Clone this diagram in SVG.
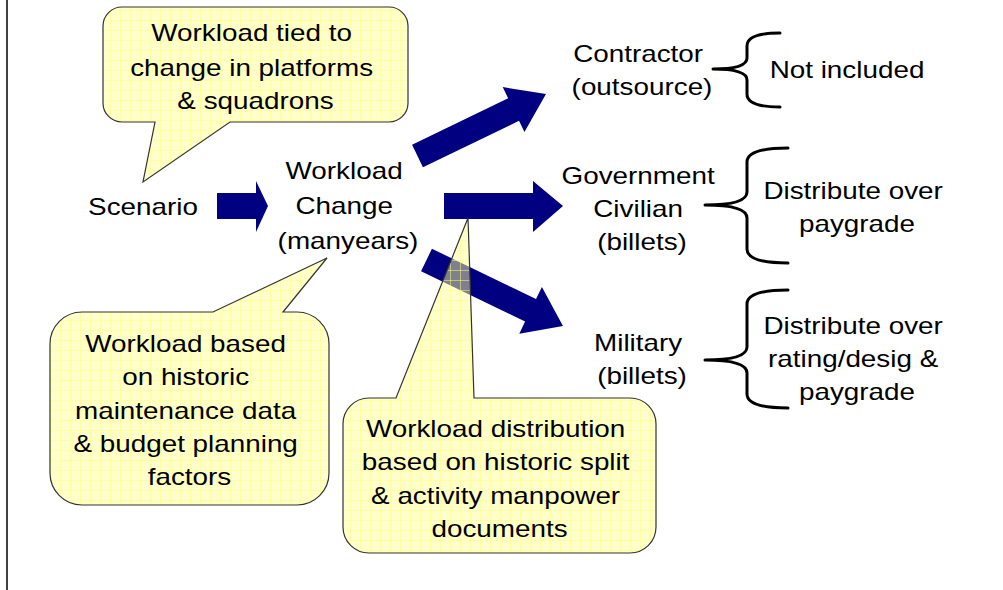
<svg xmlns="http://www.w3.org/2000/svg" width="1003" height="590" viewBox="0 0 1003 590">
  <style>
    .t { font-family: "Liberation Sans", Arial, sans-serif; font-size: 24px; fill: #000; text-anchor: middle; }
    .arrow { fill: #000080; }
    .brace { fill: none; stroke: #000; stroke-width: 3; stroke-linecap: round; stroke-linejoin: round; }
    .callout { fill: url(#grid); stroke: #333; stroke-width: 1.2; }
  </style>
  <defs>
    <!-- translucent pale-yellow fill with a fine grid -->
    <pattern id="grid" width="10" height="10" patternUnits="userSpaceOnUse">
      <rect width="10" height="10" fill="#ffff99" fill-opacity="0.5"/>
      <path d="M0 0.5H10M0.5 0V10" stroke="#ffff80" stroke-opacity="0.5" stroke-width="1"/>
    </pattern>
  </defs>

  <rect width="1003" height="590" fill="#fff"/>
  <line x1="7" y1="0" x2="7" y2="590" stroke="#000" stroke-width="1.5"/>

  <!-- block arrows and braces -->
  <g id="connectors">
    <polygon class="arrow" points="217,193 256,193 256,181 268,206 256,232 256,219 217,219"/>
    <polygon class="arrow" transform="translate(417.5,156) rotate(-25.8)" points="0,-12.5 106.7,-12.5 106.7,-25 142.7,0 106.7,25 106.7,12.5 0,12.5"/>
    <polygon class="arrow" points="444,193 533,193 533,181 563,206 533,232 533,219 444,219"/>
    <polygon class="arrow" transform="translate(426.5,260) rotate(25.8)" points="0,-12.5 115.6,-12.5 115.6,-26 151.6,0 115.6,26 115.6,12.5 0,12.5"/>

    <path class="brace" d="M780,33 Q747,33 747,46 L747,58 Q747,69 713,69 Q747,69 747,80 L747,94 Q747,107 780,107"/>
    <path class="brace" d="M788,148 Q747,148 747,162 L747,192 Q747,205 705,205 Q747,205 747,218 L747,249 Q747,263 788,263"/>
    <path class="brace" d="M788,290 Q747,290 747,304 L747,347 Q747,360 705,360 Q747,360 747,373 L747,394 Q747,408 788,408"/>
  </g>

  <g id="scenario">
    <text class="t" transform="matrix(1.16,0,0,1,143,0)"><tspan x="0" y="215">Scenario</tspan></text>
  </g>

  <g id="workload-change">
    <text class="t" transform="matrix(1.16,0,0,1,348,0)">
      <tspan x="0" y="179">Workload</tspan>
      <tspan x="0" y="214">Change</tspan>
      <tspan x="0" y="249">(manyears)</tspan>
    </text>
  </g>

  <g id="contractor">
    <text class="t" transform="matrix(1.16,0,0,1,642,0)">
      <tspan x="0" y="62">Contractor</tspan>
      <tspan x="0" y="95">(outsource)</tspan>
    </text>
  </g>

  <g id="government-civilian">
    <text class="t" transform="matrix(1.16,0,0,1,642,0)">
      <tspan x="0" y="184">Government</tspan>
      <tspan x="0" y="217">Civilian</tspan>
      <tspan x="0" y="250">(billets)</tspan>
    </text>
  </g>

  <g id="military">
    <text class="t" transform="matrix(1.16,0,0,1,642,0)">
      <tspan x="0" y="351">Military</tspan>
      <tspan x="0" y="384">(billets)</tspan>
    </text>
  </g>

  <g id="not-included">
    <text class="t" transform="matrix(1.16,0,0,1,847,0)"><tspan x="0" y="78">Not included</tspan></text>
  </g>

  <g id="civilian-distribution">
    <text class="t" transform="matrix(1.16,0,0,1,857,0)">
      <tspan x="0" y="199">Distribute over</tspan>
      <tspan x="0" y="232">paygrade</tspan>
    </text>
  </g>

  <g id="military-distribution">
    <text class="t" transform="matrix(1.16,0,0,1,857,0)">
      <tspan x="0" y="334">Distribute over</tspan>
      <tspan x="0" y="367">rating/desig &amp;</tspan>
      <tspan x="0" y="400">paygrade</tspan>
    </text>
  </g>

  <!-- callouts -->
  <g id="callout-platforms">
    <path class="callout" d="M122,7 L389,7 A19,19 0 0 1 408,26 L408,103 A19,19 0 0 1 389,122 L230,122 L143,182 L155,122 L122,122 A19,19 0 0 1 103,103 L103,26 A19,19 0 0 1 122,7 Z"/>
    <text class="t" transform="matrix(1.16,0,0,1,255.5,0)">
      <tspan x="0" y="41">Workload tied to</tspan>
      <tspan x="0" y="76">change in platforms</tspan>
      <tspan x="0" y="109">&amp; squadrons</tspan>
    </text>
  </g>

  <g id="callout-maintenance">
    <path class="callout" d="M82,312 L213,312 L327,258 L283,312 L297,312 A32,32 0 0 1 329,344 L329,473 A32,32 0 0 1 297,505 L82,505 A32,32 0 0 1 50,473 L50,344 A32,32 0 0 1 82,312 Z"/>
    <text class="t" transform="matrix(1.16,0,0,1,189.5,0)">
      <tspan x="0" y="352">Workload based</tspan>
      <tspan x="0" y="385">on historic</tspan>
      <tspan x="0" y="419">maintenance data</tspan>
      <tspan x="0" y="452">&amp; budget planning</tspan>
      <tspan x="0" y="485">factors</tspan>
    </text>
  </g>

  <g id="callout-distribution">
    <path class="callout" d="M369,398 L396,398 L468,218 L474,398 L630,398 A26,26 0 0 1 656,424 L656,527 A26,26 0 0 1 630,553 L369,553 A26,26 0 0 1 343,527 L343,424 A26,26 0 0 1 369,398 Z"/>
    <text class="t" transform="matrix(1.16,0,0,1,499.5,0)">
      <tspan x="0" y="437">Workload distribution</tspan>
      <tspan x="0" y="470">based on historic split</tspan>
      <tspan x="0" y="504">&amp; activity manpower</tspan>
      <tspan x="0" y="537">documents</tspan>
    </text>
  </g>
</svg>
